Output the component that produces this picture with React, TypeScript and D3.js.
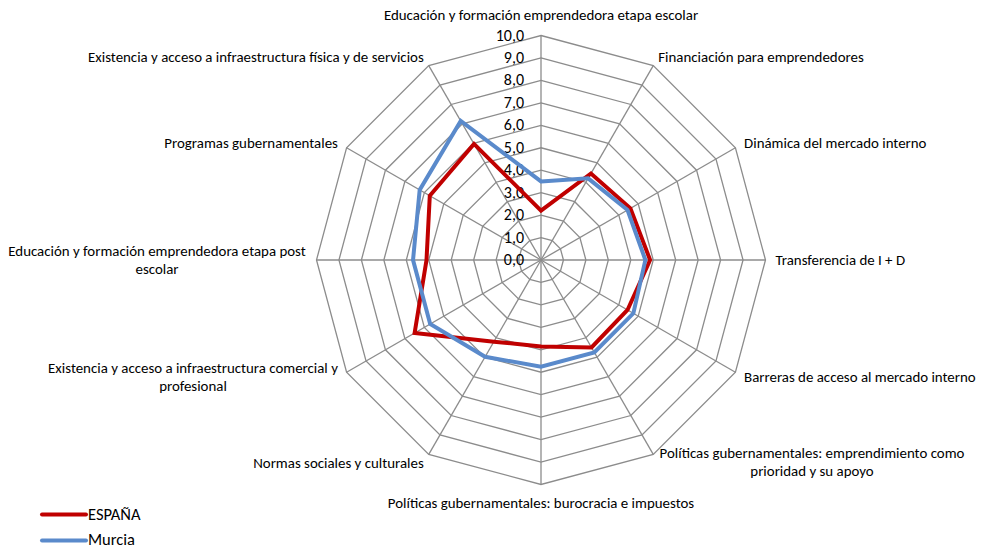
import React from "react";
import * as d3 from "d3";

const categories: string[][] = [
  ["Educación y formación emprendedora etapa escolar"],
  ["Financiación para emprendedores"],
  ["Dinámica del mercado interno"],
  ["Transferencia de I + D"],
  ["Barreras de acceso al mercado interno"],
  ["Políticas gubernamentales: emprendimiento como", "prioridad y su apoyo"],
  ["Políticas gubernamentales: burocracia e impuestos"],
  ["Normas sociales y culturales"],
  ["Existencia y acceso a infraestructura comercial y", "profesional"],
  ["Educación y formación emprendedora etapa post", "escolar"],
  ["Programas gubernamentales"],
  ["Existencia y acceso a infraestructura física y de servicios"],
];

const espana = [2.2, 4.45, 4.6, 4.86, 4.45, 4.5, 3.85, 4.2, 6.5, 5.1, 5.72, 5.97];
const murcia = [3.5, 4.2, 4.45, 4.65, 4.75, 4.75, 4.75, 4.98, 5.7, 5.7, 6.24, 7.15];
const ticks = [0, 1, 2, 3, 4, 5, 6, 7, 8, 9, 10];
const seriesNames = ["ESPAÑA", "Murcia"];
const seriesColors = ["#C00000", "#5A8ACB"];

const W = 982;
const H = 548;
const cx = 541;
const cy = 260;
const R = 224.5;
const FONT = "Carlito, Calibri, Lato, sans-serif";

export default function App() {
  const n = categories.length;
  const r = d3.scaleLinear().domain([0, 10]).range([0, R]);
  const ang = (i: number) => (i * 2 * Math.PI) / n;
  const pt = (i: number, v: number): [number, number] => [
    cx + r(v) * Math.sin(ang(i)),
    cy - r(v) * Math.cos(ang(i)),
  ];
  const line = d3
    .line<number>()
    .x((v, i) => pt(i, v)[0])
    .y((v, i) => pt(i, v)[1])
    .curve(d3.curveLinearClosed);

  const ring = (t: number) =>
    d3.range(n).map((i) => pt(i, t).join(",")).join(" ");

  const labelPos = (i: number) => {
    const a = ang(i);
    const [x, y] = pt(i, 10);
    const s = Math.sin(a);
    const c = Math.cos(a);
    let anchor: "start" | "middle" | "end" = "middle";
    if (s > 0.1) anchor = "start";
    else if (s < -0.1) anchor = "end";
    return { x, y, s, c, anchor };
  };

  return (
    <svg width={W} height={H} style={{ display: "block", position: "absolute", left: 0, top: 0 }}>
      <rect width={W} height={H} fill="#fff" />
      <g fill="none" stroke="#8c8c8c" strokeWidth={1.3}>
        {ticks.slice(1).map((t) => (
          <polygon key={t} points={ring(t)} />
        ))}
        {d3.range(n).map((i) => {
          const [x, y] = pt(i, 10);
          return <line key={i} x1={cx} y1={cy} x2={x} y2={y} />;
        })}
      </g>
      <g fontFamily={FONT} fontSize={16} fill="#000" textAnchor="end">
        {ticks.map((t) => (
          <text key={t} x={cx - 17} y={cy - r(t) + 5}>
            {d3.format(".1f")(t).replace(".", ",")}
          </text>
        ))}
      </g>
      <g>
        {[espana, murcia].map((vals, k) => (
          <path
            key={k}
            d={line(vals) || ""}
            fill="none"
            stroke={seriesColors[k]}
            strokeWidth={4}
            strokeLinejoin="miter"
          />
        ))}
      </g>
      <g fontFamily={FONT} fontSize={14.9} fill="#000">
        {categories.map((lines, i) => {
          const p = labelPos(i);
          const x = p.x + p.s * 10;
          const y = p.y - p.c * 10;
          let anchor = p.anchor;
          const lh = 18;
          let y0 = y + 5 - ((lines.length - 1) * lh) / 2;
          if (i === 0) y0 = 20;
          if (i === 6) y0 = 508;
          let xs = lines.map(() => x);
          if (lines.length > 1) {
            anchor = "middle";
            if (i === 5) xs = [812, 812];
            if (i === 8) xs = [193, 193];
            if (i === 9) xs = [157, 157];
          }
          if (i === 5) y0 = 458;
          if (i === 8) y0 = 373;
          if (i === 9) y0 = 256;
          return (
            <text key={i} textAnchor={anchor}>
              {lines.map((l, j) => (
                <tspan key={j} x={xs[j]} y={y0 + j * lh}>
                  {l}
                </tspan>
              ))}
            </text>
          );
        })}
      </g>
      <g fontFamily={FONT} fontSize={16.5}>
        {seriesNames.map((s, k) => (
          <g key={s}>
            <line
              x1={42}
              x2={86}
              y1={514.5 + k * 26}
              y2={514.5 + k * 26}
              stroke={seriesColors[k]}
              strokeWidth={4}
              strokeLinecap="round"
            />
            <text x={88} y={519.5 + k * 25.5}>
              {s}
            </text>
          </g>
        ))}
      </g>
    </svg>
  );
}
